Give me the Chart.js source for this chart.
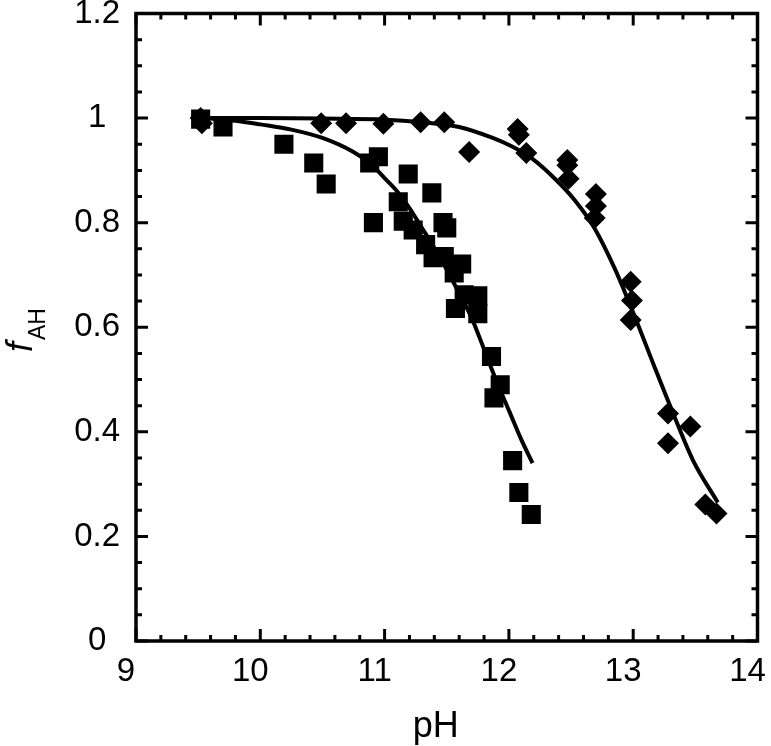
<!DOCTYPE html>
<html>
<head>
<meta charset="utf-8">
<script src="https://cdn.jsdelivr.net/npm/chart.js@4.4.1/dist/chart.umd.min.js"></script>
<style>
  html, body { margin: 0; padding: 0; background: #fff; }
  #wrap { width: 771px; height: 746px; }
</style>
</head>
<body>
<div id="wrap"><canvas id="myChart" width="771" height="746"></canvas></div>
<script>
// squares (pH, fAH)
const squarePH = [9.52, 9.70, 10.19, 10.43, 10.53, 10.88, 10.95, 11.19, 11.38, 11.11, 10.91, 11.15, 11.47, 11.50, 11.23,
                  11.33, 11.39, 11.48, 11.62, 11.56, 11.64, 11.75, 11.57, 11.75, 11.86, 11.93, 11.88, 12.03, 12.08, 12.18];
const squareF  = [0.998, 0.983, 0.950, 0.914, 0.874, 0.914, 0.926, 0.893, 0.857, 0.840, 0.800, 0.803, 0.800, 0.790, 0.786,
                  0.758, 0.733, 0.735, 0.721, 0.704, 0.662, 0.660, 0.636, 0.626, 0.544, 0.490, 0.465, 0.345, 0.284, 0.242];

// diamonds (pH, fAH)
const diamondPH = [9.52, 9.53, 10.49, 10.69, 10.99, 11.29, 11.48, 11.68, 12.07, 12.08, 12.14, 12.47, 12.47, 12.48,
                   12.70, 12.70, 12.69, 12.98, 12.99, 12.98, 13.28, 13.28, 13.46, 13.58, 13.67];
const diamondF  = [1.0, 0.99, 0.99, 0.99, 0.989, 0.992, 0.992, 0.935, 0.979, 0.968, 0.933, 0.920, 0.910, 0.884,
                   0.855, 0.832, 0.809, 0.687, 0.651, 0.614, 0.435, 0.378, 0.410, 0.261, 0.244];

// fitted curves
const squareFitPH = [9.55, 9.8, 10.0, 10.25, 10.5, 10.75, 10.9, 11.0, 11.1, 11.2, 11.3, 11.4, 11.5, 11.6, 11.7, 11.8, 11.9, 12.0, 12.1, 12.19];
const squareFitF  = [1.0, 0.995, 0.988, 0.978, 0.962, 0.935, 0.91, 0.885, 0.86, 0.828, 0.79, 0.752, 0.71, 0.665, 0.618, 0.558, 0.497, 0.441, 0.385, 0.34];

const diamondFitPH = [9.55, 10.0, 10.5, 11.0, 11.3, 11.6, 11.87, 12.03, 12.19, 12.37, 12.53, 12.69, 12.85, 13.01, 13.17, 13.32, 13.48, 13.68];
const diamondFitF  = [1.0, 1.0, 0.999, 0.997, 0.992, 0.983, 0.962, 0.945, 0.922, 0.884, 0.843, 0.789, 0.713, 0.622, 0.525, 0.436, 0.346, 0.265];

// axis ticks
const xMajor = [9, 10, 11, 12, 13, 14];
const yMajor = [0, 0.2, 0.4, 0.6, 0.8, 1.0, 1.2];

const FONT = '"Liberation Sans", Arial, sans-serif';

function toPoints(xs, ys) {
    return xs.map((x, i) => ({x: x, y: ys[i]}));
}

const frameTicks = {
    id: 'frameTicks',
    afterDraw(chart) {
        const ctx = chart.ctx;
        const a = chart.chartArea;
        const xs = chart.scales.x;
        const ys = chart.scales.y;
        ctx.save();
        ctx.strokeStyle = '#000';
        ctx.lineWidth = 3;
        ctx.beginPath();
        // x ticks every 0.2, major every 1
        for (let i = 0; i <= 25; i++) {
            const v = 9 + i * 0.2;
            const px = xs.getPixelForValue(v);
            const len = (i % 5 === 0) ? 12 : 6;
            ctx.moveTo(px, a.bottom); ctx.lineTo(px, a.bottom - len);
            ctx.moveTo(px, a.top); ctx.lineTo(px, a.top + len);
        }
        // y ticks every 0.05, major every 0.2
        for (let i = 0; i <= 24; i++) {
            const v = i * 0.05;
            const py = ys.getPixelForValue(v);
            const len = (i % 4 === 0) ? 12 : 6;
            ctx.moveTo(a.left, py); ctx.lineTo(a.left + len, py);
            ctx.moveTo(a.right, py); ctx.lineTo(a.right - len, py);
        }
        ctx.stroke();
        ctx.lineWidth = 3.5;
        ctx.strokeRect(a.left, a.top, a.right - a.left, a.bottom - a.top);

        // x title
        ctx.fillStyle = '#000';
        ctx.font = '36px ' + FONT;
        ctx.textAlign = 'center';
        ctx.textBaseline = 'alphabetic';
        ctx.fillText('pH', (a.left + a.right) / 2 - 11, 737);

        // y title: italic f with subscript AH
        ctx.translate(32, 352);
        ctx.rotate(-Math.PI / 2);
        ctx.textAlign = 'left';
        ctx.font = 'italic 36px ' + FONT;
        ctx.fillText('f', 0, 0);
        ctx.font = '23px ' + FONT;
        ctx.fillText('AH', 12, 13);
        ctx.restore();
    }
};

document.addEventListener('DOMContentLoaded', function () {
    new Chart("myChart", {
        type: "scatter",
        data: {
            datasets: [{
                data: toPoints(squareFitPH, squareFitF),
                showLine: true,
                borderColor: "#000",
                borderWidth: 4,
                pointRadius: 0,
                cubicInterpolationMode: 'monotone',
                fill: false
            }, {
                data: toPoints(diamondFitPH, diamondFitF),
                showLine: true,
                borderColor: "#000",
                borderWidth: 4,
                pointRadius: 0,
                cubicInterpolationMode: 'monotone',
                fill: false
            }, {
                data: toPoints(squarePH, squareF),
                pointStyle: 'rect',
                pointRadius: 13.5,
                pointBorderWidth: 0,
                backgroundColor: "#000",
                borderColor: "#000"
            }, {
                data: toPoints(diamondPH, diamondF),
                pointStyle: 'rectRot',
                pointRadius: 11,
                pointBorderWidth: 0,
                backgroundColor: "#000",
                borderColor: "#000"
            }]
        },
        options: {
            responsive: false,
            animation: false,
            layout: {padding: {left: 0, right: 6, top: 12, bottom: 0}},
            plugins: {
                legend: {display: false},
                tooltip: {enabled: false}
            },
            scales: {
                x: {
                    type: 'linear',
                    min: 9, max: 14,
                    grid: {display: false, drawTicks: false},
                    border: {display: false},
                    afterBuildTicks: (s) => { s.ticks = xMajor.map(v => ({value: v})); },
                    ticks: {
                        font: {size: 33, family: FONT},
                        color: '#000',
                        padding: 11,
                        labelOffset: -10,
                        maxRotation: 0,
                        callback: (v) => String(v)
                    },
                    afterFit: (s) => { s.height = 105; s.paddingLeft = 0; s.paddingRight = 0; }
                },
                y: {
                    type: 'linear',
                    min: 0, max: 1.2,
                    grid: {display: false, drawTicks: false},
                    border: {display: false},
                    afterBuildTicks: (s) => { s.ticks = yMajor.map(v => ({value: v})); },
                    ticks: {
                        font: {size: 33, family: FONT},
                        color: '#000',
                        padding: 16,
                        crossAlign: 'center',
                        callback: (v) => String(Math.round(v * 10) / 10)
                    },
                    afterFit: (s) => { s.width = 136; s.paddingTop = 0; s.paddingBottom = 0; }
                }
            }
        },
        plugins: [frameTicks]
    });
});
</script>
</body>
</html>
